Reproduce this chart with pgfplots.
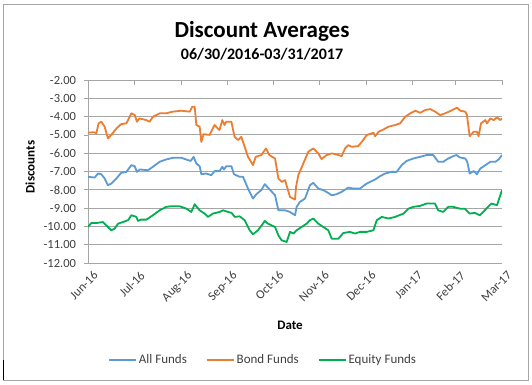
\documentclass[border=0pt]{standalone}
\usepackage{pgfplots}
\pgfplotsset{compat=1.18}
\usepackage{fontspec}
\setmainfont{Carlito}
\definecolor{cBlue}{HTML}{5B9BD5}
\definecolor{cOrange}{HTML}{ED7D31}
\definecolor{cGreen}{HTML}{00B050}
\definecolor{cGrid}{HTML}{A6A6A6}
\definecolor{cText}{HTML}{404040}
\begin{document}
\begin{tikzpicture}[x=1pt,y=1pt]
\useasboundingbox (0,0) rectangle (532,384);
\fill[white] (0,0) rectangle (532,384);
\draw[cGrid, line width=0.8pt] (3.3,4) rectangle (528,379.3);
\draw[black, line width=1.3pt] (3.8,4) -- (3.8,24);
\node[anchor=base, font=\bfseries\fontsize{23}{26}\selectfont] at (262,346.7) {Discount Averages};
\node[anchor=base, font=\bfseries\fontsize{16}{18}\selectfont] at (262,324.7) {06/30/2016-03/31/2017};
\node[rotate=90, font=\bfseries\fontsize{13}{15}\selectfont] at (30,217) {Discounts};
\node[font=\bfseries\fontsize{13}{15}\selectfont] at (290,59) {Date};
\begin{axis}[
  at={(88pt,121pt)}, anchor=south west,
  width=414pt, height=183pt, scale only axis,
  xmin=0, xmax=274, ymin=-12, ymax=-2,
  xtick={0,31,62,92,123,153,184,215,243,274},
  xticklabels={Jun-16,Jul-16,Aug-16,Sep-16,Oct-16,Nov-16,Dec-16,Jan-17,Feb-17,Mar-17},
  ytick={-12,-11,-10,-9,-8,-7,-6,-5,-4,-3,-2},
  yticklabels={-12.00,-11.00,-10.00,-9.00,-8.00,-7.00,-6.00,-5.00,-4.00,-3.00,-2.00},
  xtick pos=upper, xticklabel pos=lower, xtick align=inside,
  ytick pos=left, ytick align=outside,
  major tick length=4.5pt,
  tick style={cGrid, line width=0.8pt},
  axis line style={draw=none},
  ymajorgrids, grid style={cGrid, line width=1pt},
  ticklabel style={font=\fontsize{12.5}{15}\selectfont, text=cText},
  yticklabel style={xshift=-4pt},
  xticklabel style={rotate=45, anchor=north east, yshift=-5pt, xshift=1.5pt},
  legend columns=3,
  legend style={at={(rel axis cs:0.423,-0.53)}, anchor=center, draw=none, fill=none,
    font=\fontsize{13}{15}\selectfont, text=cText,
    /tikz/every even column/.append style={column sep=17pt}},
  legend image code/.code={\draw[#1] (0pt,0pt) -- (27pt,0pt);},
  every axis plot/.append style={line width=1.8pt, line join=round},
]
\draw[cGrid, line width=1pt] (rel axis cs:0,0) -- (rel axis cs:0,1);
\addplot[cBlue] coordinates {(0,-7.29)(4.4,-7.33)(6.6,-7.11)(8.8,-7.15)(11,-7.38)(13.2,-7.75)(15.4,-7.66)(18.8,-7.38)(22,-7.07)(25.4,-7.02)(28.7,-6.65)(30.9,-6.71)(32.4,-7.02)(34.2,-6.89)(39.7,-6.93)(43,-6.74)(47.4,-6.47)(51.8,-6.34)(56.3,-6.25)(61.8,-6.25)(66.2,-6.38)(68,-6.42)(69.9,-6.20)(71.7,-6.56)(73.9,-6.71)(75,-7.15)(78.3,-7.11)(81.6,-7.2)(83.8,-6.98)(87.1,-6.98)(88.9,-6.74)(90,-6.89)(91.5,-6.71)(94.9,-6.71)(96.6,-7.15)(100.4,-7.29)(102.6,-7.29)(105.9,-7.93)(109.2,-8.48)(111.4,-8.24)(114.7,-8.02)(117,-7.69)(119.1,-7.88)(123.8,-8.30)(126,-9.12)(130.4,-9.12)(133.7,-9.21)(137,-9.39)(138.1,-8.93)(140.3,-8.66)(143.6,-8.48)(146.9,-7.75)(149.1,-7.62)(152.4,-7.93)(155.7,-8.02)(159,-8.17)(161.3,-8.30)(164.6,-8.24)(167.9,-8.11)(172.3,-7.88)(175.6,-7.93)(180,-7.93)(184.4,-7.66)(189.9,-7.44)(193.2,-7.26)(196.6,-7.11)(201,-7.02)(204.3,-7.02)(207.6,-6.65)(210.9,-6.42)(215.3,-6.29)(219.7,-6.20)(224.1,-6.1)(228.5,-6.1)(231.8,-6.47)(235.1,-6.47)(238.4,-6.29)(241.7,-6.16)(243.9,-6.1)(246,-6.23)(249.7,-6.29)(251,-6.47)(252.6,-7.11)(255.2,-6.98)(257.4,-7.15)(259.6,-6.84)(263,-6.65)(266.3,-6.47)(269.6,-6.47)(271.8,-6.34)(274,-6.10)};
\addlegendentry{All Funds}
\addplot[cOrange] coordinates {(0,-4.88)(4,-4.85)(5.5,-4.92)(7,-4.37)(8.8,-4.28)(11,-4.55)(13.2,-5.19)(15.4,-5.0)(18.8,-4.65)(22,-4.41)(25.4,-4.37)(28.7,-3.82)(31,-3.92)(32.4,-4.28)(34,-4.10)(38.6,-4.19)(40.8,-4.28)(43,-4.01)(47.4,-3.82)(51.8,-3.82)(56,-3.73)(61.8,-3.68)(67.3,-3.73)(69,-3.46)(70.6,-3.46)(71.7,-4.46)(73.9,-4.55)(75,-5.38)(76.5,-4.96)(80.5,-5.0)(83.8,-4.46)(87,-4.74)(88.9,-4.19)(90.4,-4.46)(91.5,-4.28)(94.9,-4.28)(97,-5.10)(99.3,-5.28)(101.5,-5.1)(105.9,-6.2)(109.2,-6.65)(111,-6.2)(114.7,-6.1)(117.8,-5.74)(120,-6.1)(123.8,-6.29)(126,-7.38)(128.2,-7.57)(130.4,-7.47)(133.7,-8.39)(137,-8.53)(137.7,-7.84)(139.2,-7.2)(142.5,-6.56)(145.8,-5.92)(149.1,-5.74)(152.4,-6.01)(154.6,-6.32)(157.9,-6.1)(161.3,-6.01)(164.6,-6.07)(167.9,-6.16)(170.1,-5.74)(172.3,-5.56)(174.5,-5.65)(178.9,-5.61)(182.2,-5.28)(184.4,-5.01)(188.9,-4.88)(190,-5.07)(192.3,-4.83)(195.6,-4.70)(198.9,-4.55)(203.3,-4.46)(206.6,-4.37)(209.9,-4.01)(213.3,-3.82)(216.6,-3.68)(219.9,-3.79)(223.2,-3.64)(226.5,-3.59)(229.8,-3.73)(233.1,-3.92)(236.4,-3.82)(239.7,-3.70)(244.2,-3.51)(246.4,-3.68)(249.7,-3.73)(250.8,-3.92)(252.6,-5.07)(255.2,-4.83)(257.4,-4.83)(258.5,-5.07)(260.1,-4.37)(263,-4.19)(264,-4.37)(266.3,-4.10)(268.5,-4.19)(270.7,-4.04)(272.9,-4.19)(274,-4.10)};
\addlegendentry{Bond Funds}
\addplot[cGreen] coordinates {(0,-10.03)(2.2,-9.81)(6,-9.81)(9.9,-9.76)(13.2,-10.03)(15.4,-10.21)(17.6,-10.12)(19.9,-9.85)(23.2,-9.76)(26.5,-9.66)(28.7,-9.39)(32,-9.48)(33.1,-9.70)(35,-9.63)(38.6,-9.63)(43,-9.39)(47.4,-9.12)(51.8,-8.93)(55.2,-8.9)(60.7,-8.9)(65.1,-9.03)(68.4,-9.21)(70.6,-8.79)(73.9,-9.12)(77.2,-9.30)(79.4,-9.48)(82.7,-9.3)(87.1,-9.21)(89.3,-9.12)(92.7,-9.21)(95,-9.26)(97.1,-9.48)(100.4,-9.45)(103.7,-9.66)(107,-10.21)(109.2,-10.43)(112.5,-10.21)(115.8,-9.85)(117,-9.70)(119.1,-9.85)(123.8,-10.03)(126,-10.49)(128.2,-10.76)(131.5,-10.85)(133.7,-10.30)(136,-10.39)(138.1,-10.21)(141.4,-10.03)(144.7,-9.85)(146.9,-9.66)(149.1,-9.57)(152.4,-9.85)(155.7,-10.03)(159,-10.21)(161.3,-10.67)(165.7,-10.67)(169,-10.36)(173.4,-10.3)(176.7,-10.39)(180,-10.30)(184.4,-10.30)(188.9,-10.21)(191.1,-9.66)(194.4,-9.48)(198.9,-9.57)(203.3,-9.48)(208.8,-9.30)(212.1,-9.03)(215.3,-8.93)(219.7,-8.88)(224.1,-8.75)(229.6,-8.75)(231.8,-9.12)(235.1,-9.21)(238.4,-8.93)(241.7,-8.93)(246.1,-9.03)(249.4,-9.03)(252.6,-9.30)(256,-9.26)(259.3,-9.39)(261.5,-9.21)(264.8,-8.93)(267,-8.75)(270.7,-8.84)(274,-8.02)};
\addlegendentry{Equity Funds}
\end{axis}
\end{tikzpicture}
\end{document}
